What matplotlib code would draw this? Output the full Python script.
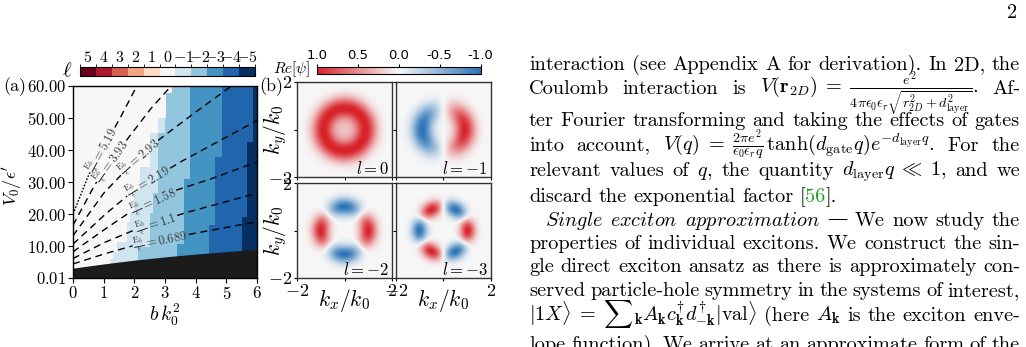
import numpy as np
import matplotlib
matplotlib.use("Agg")
import matplotlib.pyplot as plt
from matplotlib.colors import BoundaryNorm, Normalize, LinearSegmentedColormap
from matplotlib.cm import ScalarMappable

plt.rcParams['font.family'] = ['cmr10', 'DejaVu Serif']
plt.rcParams['mathtext.fontset'] = 'cm'
plt.rcParams['axes.formatter.use_mathtext'] = True
plt.rcParams['axes.unicode_minus'] = False

W, H = 1026, 347

# ---------------- panel (a): phase diagram ----------------
ell_ticks = [5, 4, 3, 2, 1, 0, -1, -2, -3, -4, -5]

# black (unbound) region, top edge
black_x = [0, 1, 2, 3, 4, 5, 6]
black_top = [3.1, 4.4, 5.6, 6.6, 7.5, 8.25, 9.0]

# staircase boundaries: upper V0 of each step, and b k0^2 where next ell starts
bnd_01_top = [5.8, 8.2, 11.3, 17.5, 20.6, 27.5, 34.7, 45.3, 50.0, 57.8, 60.5]
bnd_01_x = [1.2, 1.31, 1.45, 1.75, 1.87, 1.98, 2.18, 2.5, 2.77, 3.02, 3.22]
bnd_12_top = [9.7, 20.3, 26.6, 45.3, 50.0, 57.8, 60.5]
bnd_12_x = [2.12, 2.5, 2.62, 2.77, 3.0, 3.02, 3.22]
bnd_23_top = [10.5, 31.0, 60.5]
bnd_23_x = [3.38, 3.62, 3.81]
bnd_34_top = [16.6, 37.8, 60.5]
bnd_34_x = [4.45, 4.63, 4.85]
bnd_45_top = [19.2, 42.5, 60.5]
bnd_45_x = [5.5, 5.69, 5.88]

# E_b / eps contour lines
eb_labels = ['5.19', '3.93', '2.93', '2.19', '1.58', '1.1', '0.689']
eb_x = [[0, 0.5, 1.0, 1.5, 2.08],
        [0, 0.7, 1.5, 2.5, 3.2],
        [0, 1.0, 2.0, 2.84, 3.92, 5.17],
        [0, 1.0, 2.0, 3.49, 6.0],
        [0, 1.0, 2.0, 3.38, 4.36, 6.0],
        [0, 1.0, 2.0, 3.6, 6.0],
        [0, 1.0, 2.0, 3.65, 6.0]]
eb_y = [[20.0, 32.0, 41.0, 49.3, 60.0],
        [16.5, 29.0, 40.0, 52.5, 60.0],
        [13.2, 26.5, 36.5, 43.5, 51.3, 60.0],
        [10.6, 19.5, 27.5, 36.2, 49.2],
        [8.2, 15.0, 21.5, 27.5, 30.5, 36.3],
        [6.1, 11.0, 15.0, 20.2, 26.5],
        [4.4, 7.5, 10.2, 13.4, 17.6]]
eb_label_x = [0.95, 1.25, 2.15, 2.45, 2.6, 2.7, 2.85]

# ---------------- panel (b): wavefunctions ----------------
l_vals = [0, -1, -2, -3]
ring_r = [0.9, 0.9, 1.0, 1.02]
ring_w = [0.32, 0.3, 0.25, 0.22]
core_level = [0.22, 0.0, 0.0, 0.0]

fig = plt.figure(figsize=(W / 100, H / 100), dpi=100)


def px(x):
    return x / W


def py(y):
    return 1 - y / H


# ----- (a) main axes
ax = fig.add_axes([px(73), py(278), px(257 - 73), (278 - 86) / H])
cmap_a = plt.get_cmap('RdBu_r', 11)
norm_a = BoundaryNorm(np.arange(-5.5, 6.5, 1), 11)

xs = np.linspace(0, 6, 601)[:-1] + 0.005
ys = np.linspace(0.01, 60, 1201)[:-1] + 0.025
ell = np.zeros((len(ys), len(xs)))
for tops, bx in [(bnd_01_top, bnd_01_x), (bnd_12_top, bnd_12_x), (bnd_23_top, bnd_23_x),
                 (bnd_34_top, bnd_34_x), (bnd_45_top, bnd_45_x)]:
    idx = np.minimum(np.searchsorted(tops, ys), len(bx) - 1)
    b = np.asarray(bx)[idx]
    ell -= (xs[None, :] >= b[:, None])
ax.imshow(ell, extent=[0, 6, 0.01, 60], origin='lower', aspect='auto',
          cmap=cmap_a, norm=norm_a, interpolation='nearest', zorder=1)
ax.fill_between(black_x, 0.01, black_top, color='#1b1b1b', lw=0, zorder=2)
ax.set_xlim(0, 6)
ax.set_ylim(0.01, 60)
ax.set_xticks(range(7))
ax.set_xticklabels([f'${i}$' for i in range(7)])
yt = [0.01, 10, 20, 30, 40, 50, 60]
ax.set_yticks(yt)
ax.set_yticklabels([f'${v:.2f}$' for v in yt])
ax.tick_params(direction='out', length=3.5, width=0.8, labelsize=12, pad=1.5)
ax.set_xlabel(r'$b\,k_0^2$', fontsize=14, labelpad=0)
ax.set_ylabel(r"$V_0/\epsilon'$", fontsize=13)
ax.yaxis.set_label_coords(-0.265, 0.48)
for s in ax.spines.values():
    s.set_linewidth(1.0)

renderer = fig.canvas.get_renderer()
for lab, lx, ly, cx in zip(eb_labels, eb_x, eb_y, eb_label_x):
    xx = np.linspace(lx[0], lx[-1], 600)
    yy = np.interp(xx, lx, ly)
    pts = ax.transData.transform(np.c_[xx, yy])
    seg = np.hypot(np.diff(pts[:, 0]), np.diff(pts[:, 1]))
    arc = np.r_[0, np.cumsum(seg)]
    ic = np.argmin(np.abs(xx - cx))
    j0, j1 = max(ic - 5, 0), min(ic + 5, len(xx) - 1)
    ang = np.degrees(np.arctan2(pts[j1, 1] - pts[j0, 1], pts[j1, 0] - pts[j0, 0]))
    t = ax.text(xx[ic], yy[ic], r'$\frac{\mathrm{E}_b}{\epsilon}=%s$' % lab, fontsize=9,
                color='#3a3a3a', ha='center', va='center', rotation=0, zorder=4)
    half = t.get_window_extent(renderer).width / 2 + 1
    t.set_rotation(ang)
    t.set_rotation_mode('anchor')
    lower = arc < arc[ic] - half
    upper = arc > arc[ic] + half
    ls_low = (0, (1.2, 1.2)) if lab == '5.19' else (0, (5, 3.5))
    ax.plot(xx[lower], yy[lower], color='black', lw=1.0, ls=ls_low, zorder=3)
    ax.plot(xx[upper], yy[upper], color='black', lw=1.0, ls=(0, (5, 3.5)), zorder=3)

# ----- (a) colorbar
cax_a = fig.add_axes([px(80), py(75.7), px(255 - 80), 9 / H])
cb_a = fig.colorbar(ScalarMappable(norm=norm_a, cmap=cmap_a), cax=cax_a,
                    orientation='horizontal', ticks=ell_ticks, drawedges=True)
cb_a.dividers.set_linewidth(0.5)
cb_a.outline.set_linewidth(0.8)
cax_a.invert_xaxis()
cax_a.xaxis.set_ticks_position('top')
cax_a.set_xticks(ell_ticks)
cax_a.set_xticklabels([f'${v}$' for v in ell_ticks])
cax_a.tick_params(length=0, labelsize=11.5, pad=1.5)
fig.text(px(67), py(71), r'$\ell$', fontsize=15, ha='center', va='center')

# ----- (b) wavefunction panels
cmap_b = LinearSegmentedColormap.from_list('rb', ['#2b74b6', '#f7f7f7', '#d8232a'])
kk = np.linspace(-2, 2, 301)
KX, KY = np.meshgrid(kk, kk)
R = np.hypot(KX, KY)
TH = np.arctan2(KY, KX)
cols = [(297, 392), (395.5, 491)]
rows = [(82, 177), (183, 278)]
for i, l in enumerate(l_vals):
    r, c = divmod(i, 2)
    x0, x1 = cols[c]
    y0, y1 = rows[r]
    bx = fig.add_axes([px(x0), py(y1), px(x1 - x0), (y1 - y0) / H])
    psi = np.exp(-(R - ring_r[i]) ** 2 / (2 * ring_w[i] ** 2)) * np.cos(l * TH)
    psi += core_level[i] * np.exp(-R ** 2 / (2 * 0.4 ** 2))
    bx.imshow(psi, extent=[-2, 2, -2, 2], origin='lower', cmap=cmap_b,
              vmin=-1, vmax=1, interpolation='bilinear')
    bx.set_xticks([-2, 0, 2])
    bx.set_yticks([-2, 0, 2])
    bx.tick_params(direction='out', length=2.5, width=0.8, labelsize=13, pad=1)
    for s in bx.spines.values():
        s.set_linewidth(1.0)
        s.set_color('#333333')
    if c == 0:
        bx.set_yticklabels(['$-2$', '', '$2$'])
        bx.set_ylabel(r'$k_y/k_0$', fontsize=15.5)
        bx.yaxis.set_label_coords(-0.085, 0.5)
    else:
        bx.set_yticklabels([])
    if r == 1:
        bx.set_xticklabels(['$-2$', '', '$2$'])
        bx.set_xlabel(r'$k_x/k_0$', fontsize=15.5)
        bx.xaxis.set_label_coords(0.5, -0.09)
    else:
        bx.set_xticklabels([])
    bx.text(0.97, 0.0, r'$l=%d$' % l, transform=bx.transAxes, ha='right', va='bottom',
            fontsize=12)

# ----- (b) colorbar
cax_b = fig.add_axes([px(316.7), py(74.3), px(480.7 - 316.7), 7.6 / H])
cb_b = fig.colorbar(ScalarMappable(norm=Normalize(-1, 1), cmap=cmap_b), cax=cax_b,
                    orientation='horizontal')
cb_b.outline.set_linewidth(0.8)
cax_b.invert_xaxis()
cax_b.xaxis.set_ticks_position('top')
cb_ticks = [1.0, 0.5, 0.0, -0.5, -1.0]
cax_b.set_xticks(cb_ticks)
cax_b.set_xticklabels([f'{v:.1f}' for v in cb_ticks], family='DejaVu Sans')
cax_b.tick_params(length=2.5, width=0.8, labelsize=9.5, pad=1)
fig.text(px(292), py(69), r'$Re[\psi]$', fontsize=11, ha='center', va='center')

fig.text(px(15), py(87), '(a)', fontsize=13, ha='center', va='center')
fig.text(px(271), py(87), '(b)', fontsize=13, ha='center', va='center')

# ---------------- right column of text ----------------
green = '#22a022'
text_lines = [
    ("interaction (see Appendix A for derivation). In 2D, the", 70, True),
    (r"Coulomb interaction is $V(\mathbf{r}_{2D})\;=\;\frac{e^2}{4\pi\epsilon_0\epsilon_r"
     r"\sqrt{r_{2D}^2+d_{\mathrm{layer}}^2}}$. Af-", 94, True),
    ("ter Fourier transforming and taking the effects of gates", 126, True),
    (r"into account, $V(q)\;=\;\frac{2\pi e^2}{\epsilon_0\epsilon_r q}\,\tanh(d_{\mathrm{gate}}q)"
     r"e^{-d_{\mathrm{layer}}q}$. For the", 151, True),
    (r"relevant values of $q$, the quantity $d_{\mathrm{layer}}q\;\ll\;1$, and we", 176, True),
    (["discard", "the", "exponential", "factor", [("[", 'black'), ("56", green), ("].", 'black')]],
     202, False),
    (r"$\mathit{Single}$ $\mathit{exciton}$ $\mathit{approximation}$ — We now study the",
     225.5, True),
    ("properties of individual excitons. We construct the sin-", 249, True),
    ("gle direct exciton ansatz as there is approximately con-", 272.5, True),
    ("served particle-hole symmetry in the systems of interest,", 296, True),
    (r"$|1X\rangle\;=\;\sum{}_{\mathbf{k}}A_{\mathbf{k}}c_{\mathbf{k}}^{\dagger}"
     r"d_{-\mathbf{k}}^{\dagger}|\mathrm{val}\rangle$ (here $A_{\mathbf{k}}$ is the exciton enve-",
     321, True),
    ("lope function). We arrive at an approximate form of the", 350, True),
]
TXT_FS = 14.6
TX0, TX1 = 529, 1020


def split_words(s):
    words, cur, in_math = [], '', False
    for ch in s:
        if ch == '$':
            in_math = not in_math
        if ch == ' ' and not in_math:
            if cur:
                words.append(cur)
            cur = ''
        else:
            cur += ch
    if cur:
        words.append(cur)
    return words


for k, (line, yb, just) in enumerate(text_lines):
    words = split_words(line) if isinstance(line, str) else line
    x_start = TX0 + (16 if k == 6 else 0)
    items = []
    for w in words:
        parts = w if isinstance(w, list) else [(w, 'black')]
        plist = []
        for txt, col in parts:
            t = fig.text(0, 0, txt, fontsize=TXT_FS, color=col, ha='left', va='baseline')
            plist.append((t, t.get_window_extent(renderer).width))
        items.append(plist)
    total = sum(wd for pl in items for _, wd in pl)
    gap = (TX1 - x_start - total) / (len(items) - 1) if just else 6.5
    x = x_start
    for pl in items:
        for t, wd in pl:
            t.set_position((px(x), py(yb)))
            x += wd
        x += gap

fig.text(px(1017), py(18), '2', fontsize=TXT_FS, ha='right', va='baseline')

fig.savefig('out.png', dpi=100)
